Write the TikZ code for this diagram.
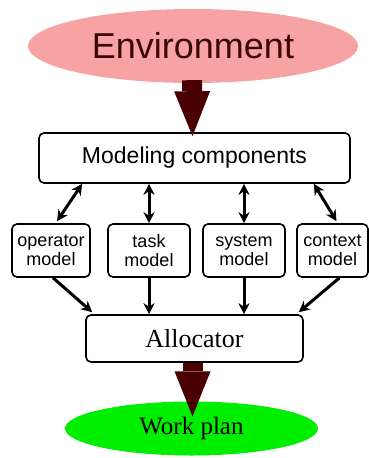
\documentclass[tikz,border=0pt]{standalone}
\usepackage{fontspec}
\setmainfont{Liberation Serif}
\setsansfont{Liberation Sans}
\usetikzlibrary{arrows.meta,shapes.geometric,calc}
\definecolor{envfill}{HTML}{F7A3A3}
\definecolor{envtext}{HTML}{3B0707}
\definecolor{fatcol}{HTML}{4A0000}
\definecolor{wpfill}{HTML}{00EE00}
\tikzset{
  box/.style={draw=black, line width=1.6pt, rounded corners=5pt, fill=white, inner sep=0pt, align=center},
  modbox/.style={box, minimum height=53pt, font=\sffamily\fontsize{18}{19}\selectfont},
  fat/.style={draw=fatcol, line width=20pt, -{Triangle[width=36pt,length=45pt,line width=0pt,fill=fatcol]}},
  dbl/.style={line width=3pt, {Stealth[length=11pt,width=11pt]}-{Stealth[length=11pt,width=11pt]}},
  sgl/.style={line width=3pt, -{Stealth[length=11pt,width=11pt]}},
}
\begin{document}
\begin{tikzpicture}[x=1pt,y=-1pt]
\useasboundingbox (0,0) rectangle (369,458);
\node[ellipse, fill=envfill, minimum width=330pt, minimum height=74pt, inner sep=0pt,
      font=\sffamily\fontsize{36}{40}\selectfont, text=envtext] (env) at (193,46) {Environment};
\node[box, minimum width=311pt, minimum height=50pt, font=\sffamily\fontsize{23}{26}\selectfont] (mod) at (194.5,158) {Modeling components};
\node[modbox, minimum width=78pt] (op) at (51,250.5) {operator\\model};
\node[modbox, minimum width=82pt] (task) at (149,250.5) {task\\model};
\node[modbox, minimum width=82pt] (sys) at (244,250.5) {system\\model};
\node[modbox, minimum width=71pt] (ctx) at (332.5,250.5) {context\\model};
\node[box, minimum width=217pt, minimum height=47pt, font=\fontsize{26}{30}\selectfont] (alloc) at (194.5,338.5) {Allocator};
\node[ellipse, fill=wpfill, minimum width=253pt, minimum height=54pt, inner sep=0pt,
      font=\fontsize{25}{28}\selectfont] (work) at (191.5,428.5) {Work plan};
\draw[fat] ($(env.south)+(-1,-3)$) -- ($(mod.north)+(-2,4)$);
\draw[fat] ($(alloc.south)+(-2,0)$) -- ($(work.north)+(1,15)$);
\draw[dbl] ($(mod.south west)+(44,0)$) -- ($(op.north)+(6,-2)$);
\draw[dbl] (task.north |- mod.south) -- (task.north);
\draw[dbl] (sys.north |- mod.south) -- (sys.north);
\draw[dbl] ($(mod.south east)+(-37,0)$) -- ($(ctx.north)+(4,-2)$);
\draw[sgl] ($(op.south)+(2,0)$) -- ($(alloc.north west)+(7,-2)$);
\draw[sgl] (task.south) -- (task.south |- alloc.north);
\draw[sgl] (sys.south) -- (sys.south |- alloc.north);
\draw[sgl] ($(ctx.south)+(7,0)$) -- ($(alloc.north east)+(-5,-2)$);
\end{tikzpicture}
\end{document}
